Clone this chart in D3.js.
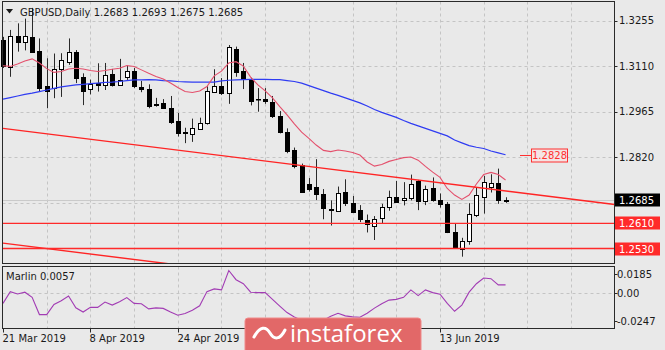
<!DOCTYPE html>
<html>
<head>
<meta charset="utf-8">
<script src="https://cdn.jsdelivr.net/npm/d3@7"></script>
<style>
  body { margin: 0; background: #e9e9e9; }
  svg { display: block; }
  text { font-family: "DejaVu Sans", sans-serif; font-size: 10px; fill: #1a1a1a; }
</style>
</head>
<body>
<svg id="chart" width="665" height="350"></svg>
<script>
// GBPUSD daily bars, 21 Mar 2019 - 26 Jun 2019
const dates = [
  "2019-03-21","2019-03-22","2019-03-25","2019-03-26","2019-03-27","2019-03-28","2019-03-29",
  "2019-04-01","2019-04-02","2019-04-03","2019-04-04","2019-04-05",
  "2019-04-08","2019-04-09","2019-04-10","2019-04-11","2019-04-12",
  "2019-04-15","2019-04-16","2019-04-17","2019-04-18","2019-04-19",
  "2019-04-22","2019-04-23","2019-04-24","2019-04-25","2019-04-26",
  "2019-04-29","2019-04-30","2019-05-01","2019-05-02","2019-05-03",
  "2019-05-06","2019-05-07","2019-05-08","2019-05-09","2019-05-10",
  "2019-05-13","2019-05-14","2019-05-15","2019-05-16","2019-05-17",
  "2019-05-20","2019-05-21","2019-05-22","2019-05-23","2019-05-24",
  "2019-05-27","2019-05-28","2019-05-29","2019-05-30","2019-05-31",
  "2019-06-03","2019-06-04","2019-06-05","2019-06-06","2019-06-07",
  "2019-06-10","2019-06-11","2019-06-12","2019-06-13","2019-06-14",
  "2019-06-17","2019-06-18","2019-06-19","2019-06-20","2019-06-21",
  "2019-06-24","2019-06-25","2019-06-26"
];
const open = [
  1.3193,1.3108,1.3207,1.3188,1.3204,1.3158,1.3047,1.3039,1.3099,1.3123,
  1.3155,1.3074,1.3036,1.3056,1.3052,1.3084,1.3052,1.3075,1.3094,1.3045,
  1.3037,1.2990,1.2992,1.2978,1.2935,1.2900,1.2893,1.2909,1.2928,1.3028,
  1.3048,1.3026,1.3164,1.3094,1.3069,1.3005,1.3004,1.2997,1.2951,1.2900,
  1.2843,1.2796,1.2735,1.2724,1.2702,1.2656,1.2651,1.2711,1.2676,1.2651,
  1.2621,1.2602,1.2626,1.2661,1.2695,1.2683,1.2688,1.2745,1.2682,1.2721,
  1.2684,1.2671,1.2583,1.2529,1.2554,1.2637,1.2692,1.2724,1.2737,1.2683
];
const high = [
  1.3203,1.3225,1.3246,1.3261,1.3295,1.3198,1.3135,1.3150,1.3151,1.3198,
  1.3161,1.3087,1.3067,1.3119,1.3120,1.3101,1.3133,1.3112,1.3104,1.3063,
  1.3052,1.3009,1.3005,1.3015,1.2961,1.2914,1.2943,1.2946,1.3046,1.3100,
  1.3072,1.3177,1.3172,1.3120,1.3073,1.3040,1.3040,1.3015,1.2967,1.2912,
  1.2851,1.2800,1.2754,1.2814,1.2719,1.2683,1.2727,1.2750,1.2697,1.2668,
  1.2638,1.2633,1.2672,1.2714,1.2745,1.2741,1.2765,1.2748,1.2730,1.2756,
  1.2705,1.2678,1.2610,1.2564,1.2674,1.2724,1.2761,1.2766,1.2784,1.2693
];
const low = [
  1.3104,1.3076,1.3156,1.3160,1.3152,1.3029,1.2976,1.3008,1.3012,1.3114,
  1.3056,1.2986,1.3020,1.3029,1.3034,1.3045,1.3047,1.3066,1.3040,1.3027,
  1.2976,1.2981,1.2974,1.2926,1.2886,1.2865,1.2869,1.2907,1.2924,1.3026,
  1.3018,1.2990,1.3076,1.3037,1.2985,1.2965,1.2990,1.2945,1.2896,1.2833,
  1.2785,1.2710,1.2711,1.2684,1.2623,1.2603,1.2647,1.2665,1.2643,1.2614,
  1.2581,1.2557,1.2610,1.2650,1.2675,1.2667,1.2683,1.2652,1.2668,1.2679,
  1.2660,1.2579,1.2530,1.2504,1.2542,1.2630,1.2641,1.2708,1.2672,1.2675
];
const close = [
  1.3110,1.3207,1.3188,1.3207,1.3156,1.3040,1.3031,1.3100,1.3129,1.3155,
  1.3071,1.3031,1.3053,1.3050,1.3083,1.3050,1.3067,1.3094,1.3045,1.3039,
  1.2984,1.2986,1.2976,1.2932,1.2897,1.2896,1.2912,1.2929,1.3030,1.3048,
  1.3027,1.3171,1.3092,1.3069,1.3000,1.3004,1.2997,1.2952,1.2901,1.2838,
  1.2792,1.2711,1.2718,1.2701,1.2657,1.2652,1.2708,1.2675,1.2648,1.2623,
  1.2607,1.2623,1.2661,1.2693,1.2679,1.2689,1.2734,1.2681,1.2720,1.2684,
  1.2671,1.2583,1.2532,1.2555,1.2639,1.2700,1.2740,1.2738,1.2684,1.2685
];
// Moving averages (fast: red, slow: blue)
const maFast = [
  1.3111,1.3109,1.3117,1.3126,1.3133,1.3120,1.3102,1.3090,1.3093,1.3101,
  1.3103,1.3101,1.3096,1.3093,1.3096,1.3100,1.3103,1.3112,1.3109,1.3098,
  1.3087,1.3077,1.3069,1.3056,1.3042,1.3029,1.3026,1.3031,1.3045,1.3079,
  1.3094,1.3120,1.3124,1.3110,1.3075,1.3050,1.3031,1.3009,1.2981,1.2955,
  1.2926,1.2900,1.2880,1.2859,1.2842,1.2838,1.2843,1.2840,1.2835,1.2827,
  1.2805,1.2792,1.2797,1.2807,1.2813,1.2819,1.2821,1.2811,1.2791,1.2773,
  1.2756,1.2721,1.2700,1.2686,1.2700,1.2735,1.2765,1.2772,1.2765,1.2748
];
const maSlow = [
  1.3005,1.3010,1.3015,1.3020,1.3024,1.3029,1.3034,1.3039,1.3044,1.3047,
  1.3050,1.3052,1.3054,1.3056,1.3058,1.3059,1.3061,1.3064,1.3066,1.3066,
  1.3067,1.3066,1.3064,1.3063,1.3061,1.3060,1.3059,1.3059,1.3059,1.3059,
  1.3063,1.3065,1.3066,1.3067,1.3068,1.3068,1.3068,1.3067,1.3067,1.3064,
  1.3061,1.3056,1.3048,1.3040,1.3032,1.3024,1.3017,1.3009,1.3001,1.2993,
  1.2983,1.2972,1.2963,1.2955,1.2947,1.2937,1.2928,1.2920,1.2912,1.2904,
  1.2896,1.2888,1.2875,1.2866,1.2857,1.2852,1.2848,1.2840,1.2834,1.2828
];
// Marlin oscillator
const marlin = [
  -0.0072,0.0010,-0.0006,0.0006,-0.0030,-0.0150,-0.0150,-0.0079,-0.0054,-0.0020,
  -0.0103,-0.0132,-0.0100,-0.0100,-0.0063,-0.0084,-0.0061,-0.0032,-0.0072,-0.0075,
  -0.0110,-0.0103,-0.0107,-0.0132,-0.0155,-0.0143,-0.0120,-0.0089,0.0010,0.0029,
  0.0022,0.0157,0.0093,0.0065,0.0006,0.0003,0.0003,-0.0044,-0.0091,-0.0136,
  -0.0167,-0.0190,-0.0205,-0.0205,-0.0190,-0.0162,-0.0141,-0.0159,-0.0166,-0.0169,
  -0.0141,-0.0105,-0.0074,-0.0049,-0.0044,-0.0030,0.0022,-0.0018,0.0022,0.0003,
  -0.0008,-0.0072,-0.0127,-0.0084,0.0006,0.0065,0.0105,0.0100,0.0057,0.0057
];
const priceTicks = [1.3255, 1.3110, 1.2965, 1.2820, 1.2675];
const priceTickText = ["1.3255", "1.3110", "1.2965", "1.2820"];
const marlinTicks = [0.0185, 0.00, -0.0247];
const marlinTickText = ["0.0185", "0.00", "-0.0247"];
const dateTickIdx = [0, 12, 24, 60];
const levels = [1.2610, 1.2530];
const trendLines = [
  { i0: 0, p0: 1.2912, i1: 84, p1: 1.2670 },
  { i0: 0, p0: 1.2547, i1: 84, p1: 1.2305 }
];
const markLevel = 1.2828;

const svg = d3.select("#chart");
const mainBox = { l: 2.5, r: 614.5, t: 1.5, b: 263.5 };
const subBox = { l: 2.5, r: 614.5, t: 266.5, b: 328.5 };

const x = d3.scaleLinear().domain([0, 84]).range([3, 614.8]);
const y = d3.scaleLinear().domain([1.2530, 1.3255]).range([248.5, 20.5]);
const ym = d3.scaleLinear().domain([-0.0247, 0.0185]).range([subBox.b, subBox.t]);
const px = i => Math.round(x(i)) + 0.5;
const fmt4 = d3.format(".4f");
const fmtDate = d3.timeFormat("%-d %b %Y");
const parse = d3.timeParse("%Y-%m-%d");

svg.append("rect").attr("width", 665).attr("height", 350).attr("fill", "#e9e9e9");

const defs = svg.append("defs");
defs.append("clipPath").attr("id", "clipMain").append("rect")
  .attr("x", 0).attr("y", mainBox.t).attr("width", mainBox.r).attr("height", mainBox.b - mainBox.t);
defs.append("clipPath").attr("id", "clipSub").append("rect")
  .attr("x", 0).attr("y", subBox.t).attr("width", subBox.r).attr("height", subBox.b - subBox.t);

const gMain = svg.append("g").attr("clip-path", "url(#clipMain)");
const gSub = svg.append("g").attr("clip-path", "url(#clipSub)");

// grid
const gridIdx = d3.range(6, 84, 6);
[[gMain, mainBox], [gSub, subBox]].forEach(([g, b]) => {
  g.selectAll(null).data(gridIdx).join("line")
    .attr("x1", i => px(i)).attr("x2", i => px(i))
    .attr("y1", b.t).attr("y2", b.b)
    .attr("stroke", "#c4c4c4").attr("stroke-dasharray", "3,3");
});
gMain.selectAll(null).data(priceTicks).join("line")
  .attr("x1", mainBox.l).attr("x2", mainBox.r)
  .attr("y1", p => Math.round(y(p)) + 0.5).attr("y2", p => Math.round(y(p)) + 0.5)
  .attr("stroke", "#c4c4c4").attr("stroke-dasharray", "3,3");
gSub.append("line")
  .attr("x1", subBox.l).attr("x2", subBox.r)
  .attr("y1", Math.round(ym(0)) + 0.5).attr("y2", Math.round(ym(0)) + 0.5)
  .attr("stroke", "#c4c4c4").attr("stroke-dasharray", "3,3");

// bid line
const last = dates.length - 1;
gMain.append("line")
  .attr("x1", mainBox.l).attr("x2", mainBox.r)
  .attr("y1", Math.round(y(close[last])) + 0.5).attr("y2", Math.round(y(close[last])) + 0.5)
  .attr("stroke", "#cacaca");

// candles
const idx = d3.range(dates.length);
gMain.selectAll(null).data(idx).join("line")
  .attr("x1", i => px(i)).attr("x2", i => px(i))
  .attr("y1", i => y(high[i])).attr("y2", i => y(low[i]))
  .attr("stroke", "#2a2a2a");
gMain.selectAll(null).data(idx).join("rect")
  .attr("x", i => px(i) - 2)
  .attr("width", 4)
  .attr("y", i => Math.round(y(Math.max(open[i], close[i]))) + 0.5)
  .attr("height", i => Math.max(0.5, Math.round(Math.abs(y(open[i]) - y(close[i])))))
  .attr("fill", i => close[i] >= open[i] ? "#ffffff" : "#000000")
  .attr("stroke", "#000000");

// moving averages
const line = d3.line().x((d, i) => x(i)).y(d => y(d));
gMain.append("path").attr("d", line(maSlow)).attr("fill", "none").attr("stroke", "#2f3cf2").attr("stroke-width", 1.2);
gMain.append("path").attr("d", line(maFast)).attr("fill", "none").attr("stroke", "#e4506c").attr("stroke-width", 1.1);

// trend lines and levels
trendLines.forEach(t => {
  gMain.append("line")
    .attr("x1", x(t.i0)).attr("y1", y(t.p0))
    .attr("x2", x(t.i1)).attr("y2", y(t.p1))
    .attr("stroke", "#ff2424").attr("stroke-width", 1.4);
});
gMain.selectAll(null).data(levels).join("line")
  .attr("x1", mainBox.l).attr("x2", mainBox.r)
  .attr("y1", p => y(p)).attr("y2", p => y(p))
  .attr("stroke", "#ff2a2a").attr("stroke-width", 1.4);

// price marker for the slow average
const my = Math.round(y(markLevel)) + 0.5;
gMain.append("line").attr("x1", 520).attr("x2", 531).attr("y1", my).attr("y2", my).attr("stroke", "#ff3030");
gMain.append("rect").attr("x", 531.5).attr("y", my - 6.5).attr("width", 36).attr("height", 13)
  .attr("fill", "#f4e4e4").attr("stroke", "#ff3030");
gMain.append("text").attr("x", 549.5).attr("y", my).attr("dy", "0.35em").attr("text-anchor", "middle")
  .style("fill", "#ff3030").text(fmt4(markLevel));

// marlin line
const mline = d3.line().x((d, i) => x(i)).y(d => ym(d));
gSub.append("path").attr("d", mline(marlin)).attr("fill", "none").attr("stroke", "#a23cb4").attr("stroke-width", 1.1);

// frames
[mainBox, subBox].forEach(b => {
  svg.append("rect").attr("x", b.l).attr("y", b.t).attr("width", b.r - b.l).attr("height", b.b - b.t)
    .attr("fill", "none").attr("stroke", "#2a2a2a");
});

// price axis
svg.selectAll(null).data(priceTicks).join("line")
  .attr("x1", mainBox.r).attr("x2", mainBox.r + 3)
  .attr("y1", p => Math.round(y(p)) + 0.5).attr("y2", p => Math.round(y(p)) + 0.5)
  .attr("stroke", "#2a2a2a");
svg.selectAll(null).data(priceTickText).join("text")
  .attr("x", 619).attr("y", (t, i) => y(priceTicks[i])).attr("dy", "0.35em").text(t => t);

// price labels on axis
function axisLabel(p, bg, fg) {
  const cy = Math.round(y(p));
  svg.append("rect").attr("x", 615).attr("y", cy - 6.5).attr("width", 45).attr("height", 13).attr("fill", bg);
  svg.append("text").attr("x", 619).attr("y", cy).attr("dy", "0.35em").style("fill", fg).text(fmt4(p));
}
levels.forEach(p => axisLabel(p, "#ff2a2a", "#ffffff"));
axisLabel(close[last], "#000000", "#ffffff");

// marlin axis
const mTickY = [274.5, Math.round(ym(0)) + 0.5, 321.5];
svg.selectAll(null).data(marlinTicks).join("line")
  .attr("x1", subBox.r).attr("x2", subBox.r + 3)
  .attr("y1", (v, i) => mTickY[i]).attr("y2", (v, i) => mTickY[i])
  .attr("stroke", "#2a2a2a");
svg.selectAll(null).data(marlinTicks).join("text")
  .attr("x", 617).attr("y", (v, i) => mTickY[i]).attr("dy", "0.35em")
  .text((v, i) => marlinTickText[i]);

// date axis
svg.selectAll(null).data(dateTickIdx).join("line")
  .attr("x1", i => px(i)).attr("x2", i => px(i))
  .attr("y1", subBox.b).attr("y2", subBox.b + 4).attr("stroke", "#2a2a2a");
svg.selectAll(null).data(dateTickIdx).join("text")
  .attr("x", i => px(i) - 1).attr("y", 342)
  .text(i => fmtDate(parse(dates[i])));

// titles
svg.append("path").attr("d", "M6,9 L13,9 L9.5,13.5 Z").attr("fill", "#1a1a1a");
svg.append("text").attr("x", 20).attr("y", 16)
  .text(`GBPUSD,Daily  ${fmt4(open[last])} ${fmt4(high[last])} ${fmt4(low[last])} ${fmt4(close[last])}`);
svg.append("text").attr("x", 6).attr("y", 280).text(`Marlin ${fmt4(marlin[last])}`);

// watermark badge
const wm = svg.append("g");
wm.append("rect").attr("x", 245).attr("y", 318).attr("width", 176).attr("height", 36).attr("rx", 3)
  .attr("fill", "#e26868").attr("stroke", "#f08a8a");
wm.append("path")
  .attr("d", "M254,337 C260,326 266,326 270,333 C274,340 280,340 285,330")
  .attr("fill", "none").attr("stroke", "#ffffff").attr("stroke-width", 3).attr("stroke-linecap", "round");
wm.append("text").attr("x", 290).attr("y", 342)
  .style("font-family", "'Open Sans', sans-serif").style("font-size", "24px").style("fill", "#ffffff")
  .text("instaforex");
</script>
</body>
</html>
